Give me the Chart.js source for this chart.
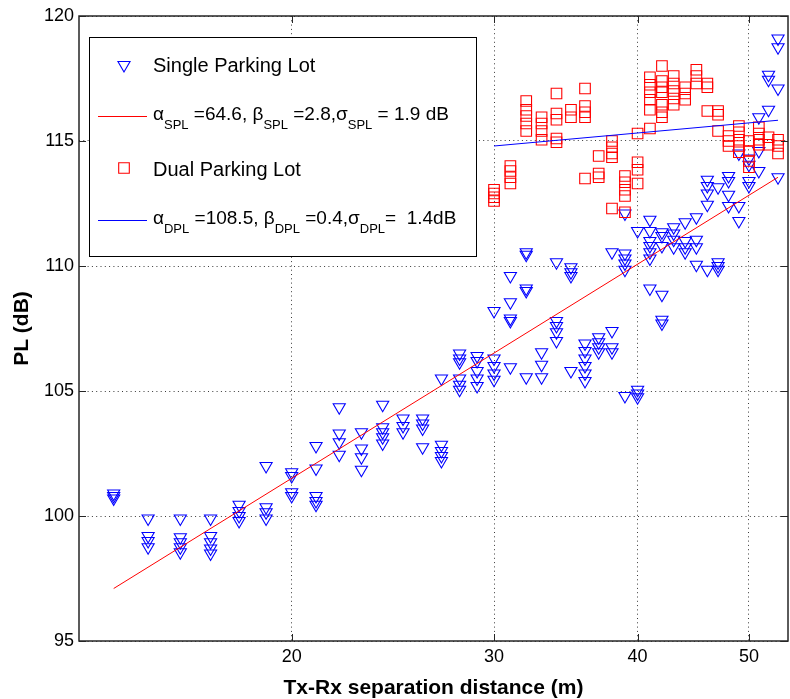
<!DOCTYPE html>
<html><head><meta charset="utf-8">
<script src="https://cdn.jsdelivr.net/npm/chart.js@4"></script>
<style>html,body{margin:0;padding:0;background:#fff;overflow:hidden}</style>
</head><body>
<canvas id="c" width="790" height="699"></canvas>
<script>
// ---------- data ----------
const xTicks = [20, 30, 40, 50];
const yTicks = [95, 100, 105, 110, 115, 120];

// Single Parking Lot: distance (m) and measured path loss (dB) at that distance
const splDist = [14,15,16,17,18,19,20,21,22,23,24,25,26,27,28,29,30,31,32,33,34,35,36,37,38,39,40,41,42,43,44,45,46,47,48,49,50,51,52,53];
const splPL = [
  [100.9,100.8,100.7],
  [99.9,99.2,99.0,98.75],
  [99.9,99.15,98.95,98.75,98.55],
  [99.9,99.2,98.95,98.7,98.5],
  [100.45,100.2,100.0,99.8],
  [102.0,100.35,100.15,99.9],
  [101.75,101.6,100.95,100.8],
  [102.8,101.9,100.8,100.6,100.45],
  [104.35,103.3,102.95,102.45],
  [103.35,102.7,102.35,101.85],
  [104.45,103.55,103.35,103.15,102.9],
  [103.9,103.6,103.35],
  [103.9,103.7,103.5,102.75],
  [105.5,102.85,102.6,102.4,102.2],
  [106.5,106.3,106.15,105.5,105.25,105.05],
  [106.4,106.2,105.8,105.5,105.2],
  [108.2,106.3,106.0,105.7,105.45],
  [109.6,108.55,107.9,107.8,105.95],
  [110.55,110.45,109.1,109.0,105.55],
  [106.55,106.05,105.55],
  [110.15,107.8,107.6,107.35,107.0],
  [109.95,109.75,109.6,105.8],
  [106.9,106.6,106.3,106.0,105.7,105.4],
  [107.15,106.95,106.75,106.55],
  [110.55,107.4,106.75,106.55],
  [112.1,110.5,110.3,110.1,109.85,104.8],
  [111.4,105.05,104.9,104.75],
  [111.85,111.4,111.0,110.8,110.55,110.3,109.1],
  [111.35,111.2,110.8,108.85,107.85,107.7],
  [111.55,111.3,111.05,110.75],
  [111.75,111.0,110.75,110.55],
  [111.95,111.05,110.75,110.05],
  [113.45,113.2,112.9,112.45,109.85],
  [113.15,110.15,110.0,109.85],
  [113.6,113.4,112.85,112.4],
  [114.5,112.4,111.8],
  [114.3,114.05,113.4,113.2],
  [115.95,114.6,113.8],
  [117.65,117.45,116.25],
  [119.1,118.75,117.1,113.55]
];

// Dual Parking Lot
const dplDist = [30,31,32,33,34,35,36,37,38,39,40,41,42,43,44,45,46,47,48,49,50,51,52,53];
const dplPL = [
  [113.05,112.9,112.75,112.6],
  [114.0,113.8,113.55,113.3],
  [116.6,116.25,116.0,115.7,115.4],
  [115.95,115.7,115.4,115.05],
  [116.9,116.1,115.85,115.1,114.95],
  [116.25,115.95],
  [117.1,116.4,116.15,115.95,113.5],
  [114.4,113.7,113.55],
  [115.0,114.75,114.5,114.35,112.3],
  [113.6,113.35,113.05,112.8,112.15],
  [115.3,114.15,113.85,113.3],
  [117.55,117.25,116.95,116.65,116.25,115.5],
  [118.0,117.4,117.15,116.95,116.45,116.15,115.95],
  [117.6,117.3,117.0,116.7,116.45],
  [117.15,116.9,116.65],
  [117.85,117.6,117.3],
  [117.3,117.15,116.2],
  [116.2,116.05,115.4],
  [115.2,115.0,114.8],
  [115.6,115.35,115.05,114.8,114.55],
  [115.0,114.6,114.2,113.95],
  [115.55,115.3,115.05,114.85],
  [115.15,114.85],
  [115.05,114.8,114.5]
];

// Fitted path-loss lines (end points)
const splFitDist = [14, 53];
const splFitPL = [97.1, 113.55];
const dplFitDist = [30, 53];
const dplFitPL = [114.8, 115.83];

const seriesNames = ['Single Parking Lot', 'Dual Parking Lot'];
const splFitLabel = [['α','m'],['SPL','s'],[' =64.6, β','m'],['SPL','s'],[' =2.8,σ','m'],['SPL','s'],[' = 1.9 dB','m']];
const dplFitLabel = [['α','m'],['DPL','s'],[' =108.5, β','m'],['DPL','s'],[' =0.4,σ','m'],['DPL','s'],['=  1.4dB','m']];

const xTitle = 'Tx-Rx separation distance (m)';
const yTitle = 'PL (dB)';

// ---------- build ----------
function flatten(dist, vals){
  const out = [];
  dist.forEach((d,i)=>vals[i].forEach(v=>out.push({x:d,y:v})));
  return out;
}
const FONT = '"Liberation Sans", Arial, Helvetica, sans-serif';
const BLUE = '#0000ff', RED = '#ff0000';
const triStyle = {pointStyle:'triangle', radius:7, rotation:180, borderWidth:1.1};
const sqStyle = {pointStyle:'rect', radius:7.5, rotation:0, borderWidth:1.1};

const framePlugin = {
  id:'frame',
  afterDraw(chart){
    const {ctx, chartArea:a, scales} = chart;
    ctx.save();
    ctx.strokeStyle = '#262626';
    ctx.lineWidth = 1;
    ctx.beginPath();
    const tl = 7;
    xTicks.forEach(v=>{
      const p = Math.round(scales.x.getPixelForValue(v))+0.5;
      ctx.moveTo(p, a.bottom); ctx.lineTo(p, a.bottom-tl);
      ctx.moveTo(p, a.top); ctx.lineTo(p, a.top+tl);
    });
    yTicks.forEach(v=>{
      const p = Math.round(scales.y.getPixelForValue(v))+0.5;
      ctx.moveTo(a.left, p); ctx.lineTo(a.left+tl, p);
      ctx.moveTo(a.right, p); ctx.lineTo(a.right-tl, p);
    });
    ctx.stroke();
    ctx.lineWidth = 1.5;
    ctx.strokeRect(a.left, a.top, a.right-a.left, a.bottom-a.top);
    ctx.restore();

    // legend
    const bx = a.left+10, by = a.top+21, bw = 387, bh = 219;
    ctx.save();
    ctx.fillStyle = '#fff';
    ctx.fillRect(bx, by, bw, bh);
    ctx.strokeStyle = '#000'; ctx.lineWidth = 1;
    ctx.strokeRect(bx+0.5, by+0.5, bw, bh);
    const H = Chart.helpers;
    ctx.fillStyle = 'rgba(0,0,0,0)';
    ctx.strokeStyle = BLUE; ctx.lineWidth = 1.1;
    H.drawPoint(ctx, triStyle, bx+35, by+28);
    ctx.strokeStyle = RED;
    H.drawPoint(ctx, sqStyle, bx+35, by+131);
    ctx.lineWidth = 1;
    ctx.beginPath(); ctx.strokeStyle = RED; ctx.moveTo(bx+9, by+79.5); ctx.lineTo(bx+58, by+79.5); ctx.stroke();
    ctx.beginPath(); ctx.strokeStyle = BLUE; ctx.moveTo(bx+9, by+183.5); ctx.lineTo(bx+58, by+183.5); ctx.stroke();
    ctx.fillStyle = '#000';
    ctx.textBaseline = 'alphabetic';
    ctx.textAlign = 'left';
    ctx.font = '20px '+FONT;
    ctx.fillText(seriesNames[0], bx+64, by+35);
    ctx.fillText(seriesNames[1], bx+64, by+139);
    const mainF = '19px '+FONT, subF = '13px '+FONT;
    function rich(parts, x, y){
      parts.forEach(([t,k])=>{
        ctx.font = k==='s' ? subF : mainF;
        ctx.fillText(t, x, k==='s' ? y+9 : y);
        x += ctx.measureText(t).width;
      });
    }
    rich(splFitLabel, bx+64, by+83);
    rich(dplFitLabel, bx+64, by+187);
    ctx.restore();
  }
};

new Chart(document.getElementById('c'), {
  type:'scatter',
  data:{datasets:[
    {label:seriesNames[0], data:flatten(splDist, splPL), borderColor:BLUE, backgroundColor:'rgba(0,0,0,0)',
      pointStyle:'triangle', pointRadius:7, pointRotation:180, pointBorderWidth:1.1, order:4},
    {label:'SPL fit', type:'line', data:splFitDist.map((d,i)=>({x:d,y:splFitPL[i]})), borderColor:RED, borderWidth:1,
      pointRadius:0, fill:false, order:3},
    {label:seriesNames[1], data:flatten(dplDist, dplPL), borderColor:RED, backgroundColor:'rgba(0,0,0,0)',
      pointStyle:'rect', pointRadius:7.5, pointBorderWidth:1.1, order:2},
    {label:'DPL fit', type:'line', data:dplFitDist.map((d,i)=>({x:d,y:dplFitPL[i]})), borderColor:BLUE, borderWidth:1,
      pointRadius:0, fill:false, order:1}
  ]},
  options:{
    responsive:false, animation:false, devicePixelRatio:1,
    layout:{autoPadding:false, padding:{top:16, right:2, left:0, bottom:0}},
    plugins:{legend:{display:false}, tooltip:{enabled:false}},
    scales:{
      x:{type:'logarithmic', min:13.06, max:54.07,
        afterBuildTicks(s){ s.ticks = xTicks.map(v=>({value:v})); },
        afterFit(s){ s.height = 58; s.paddingLeft = 0; s.paddingRight = 0; },
        ticks:{autoSkip:false, maxRotation:0, padding:5, color:'#000', font:{family:FONT, size:18},
          callback:(v)=>String(v)},
        grid:{drawTicks:false, color:'#3a3a3a', lineWidth:1},
        border:{display:false, dash:[1,3.3]},
        title:{display:true, text:xTitle, color:'#000', font:{family:FONT, size:21, weight:'bold', lineHeight:1}, padding:{top:0,bottom:0}}
      },
      y:{type:'linear', min:95, max:120,
        afterBuildTicks(s){ s.ticks = yTicks.map(v=>({value:v})); },
        afterFit(s){ s.width = 79; s.paddingTop = 0; s.paddingBottom = 0; },
        ticks:{padding:5, color:'#000', font:{family:FONT, size:18}, callback:(v)=>String(v)},
        grid:{drawTicks:false, color:'#3a3a3a', lineWidth:1},
        border:{display:false, dash:[1,3.3]},
        title:{display:true, text:yTitle, color:'#000', font:{family:FONT, size:21, weight:'bold', lineHeight:1}, padding:{top:11.5,bottom:0}}
      }
    }
  },
  plugins:[framePlugin]
});
</script>
</body></html>
